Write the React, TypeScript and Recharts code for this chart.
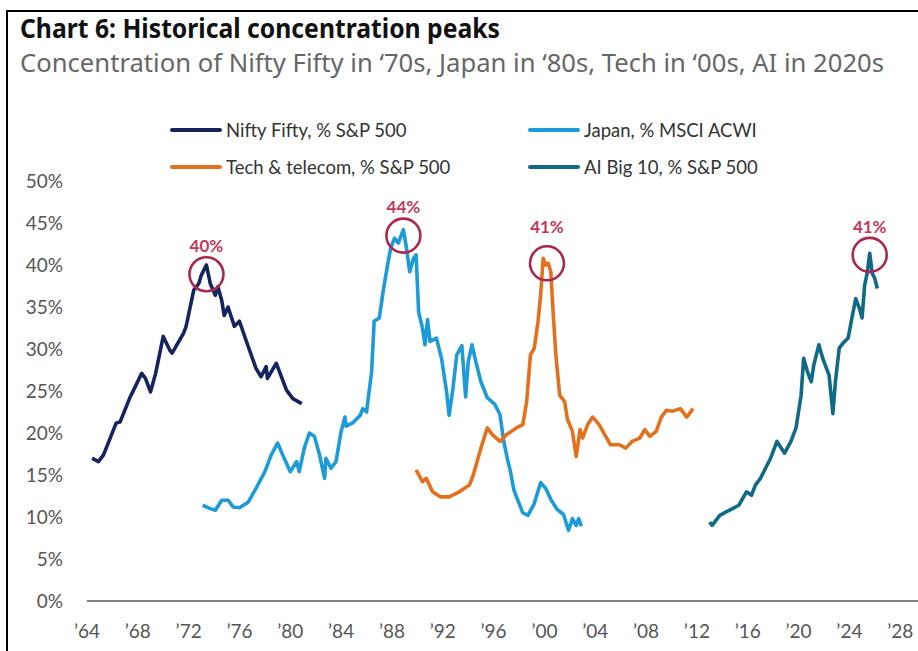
import React from 'react';
import { LineChart, Line, XAxis, YAxis, ReferenceDot } from 'recharts';

// Nifty Fifty, % of S&P 500
const niftyYears = [1964.4, 1964.9, 1965.3, 1966.3, 1966.6, 1967.4, 1967.6, 1968.3, 1968.6, 1969.0, 1969.4, 1970.0, 1970.5, 1970.7, 1971.6, 1971.8, 1972.4, 1972.8, 1973.0, 1973.4, 1973.7, 1974.1, 1974.3, 1974.6, 1974.8, 1975.1, 1975.6, 1976.0, 1976.5, 1977.3, 1977.7, 1978.1, 1978.2, 1978.9, 1979.7, 1980.2, 1980.9];
const niftyValues = [17.0, 16.6, 17.4, 21.2, 21.3, 24.3, 24.9, 27.1, 26.5, 24.9, 27.1, 31.5, 29.9, 29.5, 31.9, 32.7, 37.0, 37.8, 38.8, 40.0, 37.8, 36.4, 37.4, 35.8, 34.0, 35.0, 32.7, 33.3, 31.1, 27.7, 26.7, 27.9, 26.5, 28.3, 25.1, 24.1, 23.5];

// Japan, % of MSCI ACWI
const japanYears = [1973.1, 1973.7, 1974.1, 1974.6, 1975.1, 1975.5, 1976.0, 1976.7, 1977.3, 1978.0, 1978.5, 1979.0, 1979.4, 1980.0, 1980.5, 1980.7, 1981.1, 1981.5, 1981.9, 1982.3, 1982.7, 1982.8, 1983.2, 1983.6, 1984.0, 1984.3, 1984.4, 1984.9, 1985.5, 1985.7, 1986.0, 1986.4, 1986.6, 1987.0, 1987.3, 1987.7, 1987.9, 1988.2, 1988.5, 1988.9, 1989.1, 1989.4, 1989.7, 1989.9, 1990.1, 1990.4, 1990.6, 1990.8, 1991.0, 1991.5, 1991.9, 1992.3, 1992.5, 1992.8, 1993.1, 1993.5, 1993.8, 1994.0, 1994.3, 1994.6, 1995.0, 1995.5, 1996.1, 1996.5, 1996.8, 1997.1, 1997.3, 1997.6, 1997.9, 1998.3, 1998.7, 1999.2, 1999.7, 2000.1, 2000.5, 2001.0, 2001.5, 2001.9, 2002.2, 2002.5, 2002.7, 2002.9];
const japanValues = [11.4, 11.0, 10.8, 12.0, 12.0, 11.2, 11.1, 11.8, 13.4, 15.4, 17.4, 18.8, 17.4, 15.4, 16.6, 15.4, 18.2, 20.0, 19.6, 17.4, 14.6, 17.0, 15.8, 16.6, 20.2, 21.9, 20.8, 21.2, 22.1, 22.9, 22.5, 27.3, 33.3, 33.7, 36.8, 40.4, 42.0, 43.2, 42.6, 44.2, 42.4, 39.2, 40.8, 41.2, 34.4, 32.5, 30.5, 33.5, 30.9, 31.3, 28.9, 24.9, 22.1, 25.3, 29.3, 30.4, 24.3, 28.5, 30.5, 28.5, 26.1, 24.2, 23.4, 22.2, 19.0, 16.8, 15.6, 13.2, 12.0, 10.5, 10.2, 11.6, 14.1, 13.4, 12.1, 10.9, 10.3, 8.4, 9.8, 9.0, 9.8, 8.9];

// Tech & telecom, % of S&P 500
const techYears = [1989.9, 1990.4, 1990.7, 1991.2, 1991.8, 1992.5, 1993.3, 1994.1, 1994.4, 1995.0, 1995.5, 1995.9, 1996.5, 1997.0, 1997.8, 1998.3, 1998.6, 1998.9, 1999.2, 1999.5, 1999.7, 1999.9, 2000.1, 2000.3, 2000.5, 2000.7, 2000.9, 2001.2, 2001.6, 2001.8, 2002.2, 2002.5, 2002.8, 2003.0, 2003.4, 2003.8, 2004.3, 2004.9, 2005.2, 2005.9, 2006.4, 2006.9, 2007.5, 2007.9, 2008.3, 2008.8, 2009.2, 2009.6, 2010.1, 2010.7, 2011.2, 2011.7];
const techValues = [15.6, 14.2, 14.6, 13.0, 12.4, 12.4, 13.0, 13.8, 15.0, 18.2, 20.6, 19.8, 19.0, 19.8, 20.6, 21.0, 23.7, 29.3, 30.1, 33.3, 36.4, 40.8, 40.0, 40.2, 39.2, 34.0, 29.3, 24.5, 23.7, 21.7, 20.2, 17.2, 20.4, 19.4, 21.0, 21.9, 21.0, 19.4, 18.6, 18.6, 18.2, 19.0, 19.4, 20.4, 19.6, 20.2, 21.9, 22.7, 22.6, 22.9, 21.9, 22.9];

// AI Big 10, % of S&P 500
const aiYears = [2013.0, 2013.2, 2013.8, 2014.3, 2014.8, 2015.3, 2015.9, 2016.3, 2016.6, 2017.0, 2017.4, 2017.8, 2018.3, 2018.9, 2019.4, 2019.8, 2020.2, 2020.4, 2020.7, 2021.0, 2021.2, 2021.6, 2021.9, 2022.2, 2022.4, 2022.7, 2022.9, 2023.2, 2023.5, 2023.9, 2024.2, 2024.5, 2024.8, 2025.0, 2025.2, 2025.4, 2025.6, 2025.8, 2026.0, 2026.2];
const aiValues = [9.4, 9.0, 10.2, 10.6, 11.0, 11.4, 13.0, 12.6, 13.8, 14.6, 15.8, 17.0, 19.0, 17.6, 19.0, 20.6, 24.5, 28.9, 27.3, 26.1, 28.1, 30.5, 28.9, 27.7, 26.9, 22.3, 26.1, 30.1, 30.7, 31.3, 33.7, 36.0, 34.8, 33.7, 37.6, 39.0, 41.4, 39.0, 38.4, 37.2];

// circled peaks
const peakYears = [1973.4, 1988.9, 2000.2, 2025.6];
const peakValues = [38.9, 43.5, 40.2, 41.2];
const peakLabels = ['40%', '44%', '41%', '41%'];

const xTicks = [1964, 1968, 1972, 1976, 1980, 1984, 1988, 1992, 1996, 2000, 2004, 2008, 2012, 2016, 2020, 2024, 2028];
const yTicks = [0, 5, 10, 15, 20, 25, 30, 35, 40, 45, 50];

const toPoints = (years: number[], values: number[]) => years.map((x, i) => ({ x, v: values[i] }));

const series = [
  { key: 'nifty', name: 'Nifty Fifty, % S&P 500', color: '#15245e', data: toPoints(niftyYears, niftyValues) },
  { key: 'japan', name: 'Japan, % MSCI ACWI', color: '#1d9bd8', data: toPoints(japanYears, japanValues) },
  { key: 'tech', name: 'Tech & telecom, % S&P 500', color: '#e2711d', data: toPoints(techYears, techValues) },
  { key: 'ai', name: 'AI Big 10, % S&P 500', color: '#106a86', data: toPoints(aiYears, aiValues) },
];

const FONT = 'Lato, "Open Sans", sans-serif';
const RED = '#a8284e';
const labelGap = [5, 6, 13, 5];

// legend slots: nifty, japan, tech, ai
const legendPos = [
  { left: 170, top: 130 },
  { left: 528, top: 130 },
  { left: 170, top: 167 },
  { left: 528, top: 167 },
];

const ChartLegend = () => (
  <>
    {series.map((s, i) => (
      <div
        key={s.key}
        style={{
          position: 'absolute',
          left: legendPos[i].left,
          top: legendPos[i].top - 12,
          height: 24,
          display: 'flex',
          alignItems: 'center',
          fontFamily: FONT,
          fontSize: 18.5,
          color: '#333',
          whiteSpace: 'nowrap',
        }}
      >
        <span style={{ display: 'inline-block', width: 52, height: 4, background: s.color, borderRadius: 2 }} />
        <span style={{ marginLeft: 4 }}>{s.name}</span>
      </div>
    ))}
  </>
);

export default function App() {
  return (
    <div style={{ position: 'absolute', left: 0, top: 0, width: 918, height: 651, background: '#fff', overflow: 'hidden' }}>
      <LineChart width={918} height={651} margin={{ top: 181, right: 0, bottom: 0, left: 0 }}>
        <XAxis
          dataKey="x"
          type="number"
          domain={[1964, 2029.4]}
          ticks={xTicks}
          tickFormatter={(y: number) => '\u2019' + String(y).slice(2)}
          height={50}
          tickLine={false}
          tickSize={0}
          tickMargin={24}
          axisLine={{ stroke: '#7f7f7f', strokeWidth: 2 }}
          tick={{ fill: '#555', fontSize: 19, fontFamily: FONT }}
          interval={0}
        />
        <YAxis
          type="number"
          domain={[0, 50]}
          ticks={yTicks}
          tickFormatter={(v: number) => v + '%'}
          width={87}
          axisLine={false}
          tickLine={false}
          tickSize={0}
          tickMargin={24}
          tick={{ fill: '#555', fontSize: 19, fontFamily: FONT }}
          interval={0}
        />
        {series.map((s) => (
          <Line
            key={s.key}
            data={s.data}
            dataKey="v"
            name={s.name}
            type="linear"
            stroke={s.color}
            strokeWidth={3.6}
            strokeLinejoin="round"
            dot={false}
            activeDot={false}
            isAnimationActive={false}
          />
        ))}
        {peakYears.map((x, i) => (
          <ReferenceDot
            key={i}
            x={x}
            y={peakValues[i]}
            r={17}
            fill="none"
            stroke={RED}
            strokeWidth={2.6}
            label={{
              value: peakLabels[i],
              position: 'top',
              offset: labelGap[i],
              fill: '#c03a5e',
              fontSize: 17,
              fontWeight: 700,
              fontFamily: FONT,
            }}
          />
        ))}
      </LineChart>
      <ChartLegend />
      <svg width={918} height={100} style={{ position: 'absolute', left: 0, top: 0, pointerEvents: 'none' }}>
        <text x={20} y={38} fontFamily='"Noto Sans", sans-serif' fontWeight={700} fontSize={27} fill="#111" textLength={480} lengthAdjust="spacingAndGlyphs">
          Chart 6: Historical concentration peaks
        </text>
        <text x={20} y={72} fontFamily='"Noto Sans", sans-serif' fontSize={25} fill="#666" textLength={864} lengthAdjust="spacingAndGlyphs">
          Concentration of Nifty Fifty in ‘70s, Japan in ‘80s, Tech in ‘00s, AI in 2020s
        </text>
      </svg>
      <div style={{ position: 'absolute', left: 6, top: 10, right: 0, height: 2, background: '#000' }} />
      <div style={{ position: 'absolute', left: 6, top: 10, bottom: 0, width: 2, background: '#000' }} />
    </div>
  );
}
